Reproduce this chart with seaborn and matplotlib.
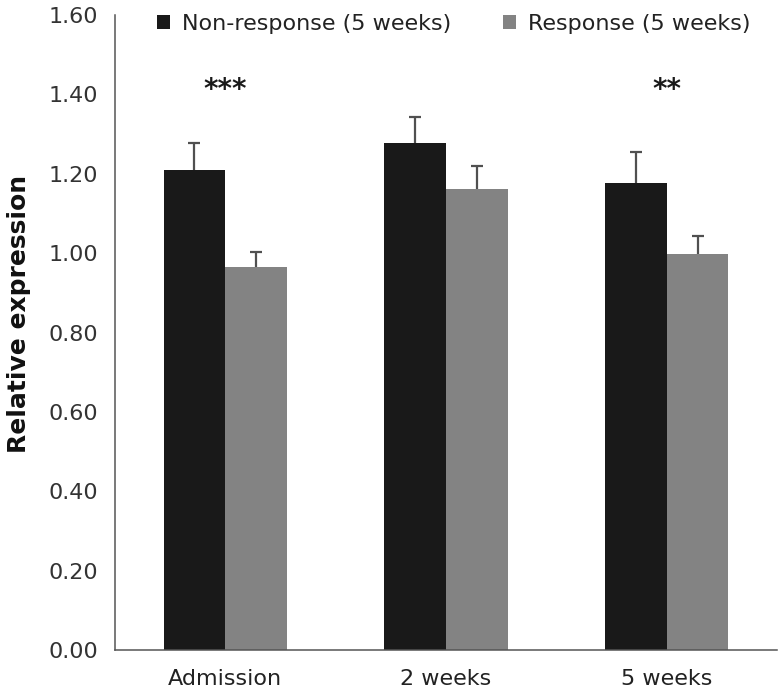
import numpy as np
import pandas as pd
import matplotlib
matplotlib.use("Agg")
import matplotlib.pyplot as plt
import seaborn as sns
from matplotlib.ticker import FixedLocator

# values
timepoints = ["Admission", "2 weeks", "5 weeks"]
groups = ["Non-response (5 weeks)", "Response (5 weeks)"]
non_response = [1.21, 1.277, 1.177]
non_response_err = [0.068, 0.066, 0.077]
response = [0.966, 1.162, 0.997]
response_err = [0.038, 0.057, 0.045]
stars = ["***", "", "**"]

colors = ["#191919", "#838383"]

df = pd.DataFrame({
    "timepoint": timepoints * 2,
    "group": [groups[0]] * 3 + [groups[1]] * 3,
    "value": non_response + response,
    "err": non_response_err + response_err,
})

sns.set_style("white")
plt.rcParams["font.family"] = ["DejaVu Sans"]

fig = plt.figure(figsize=(7.79, 6.91), dpi=100)
ax = fig.add_axes([0.1476, 0.0593, 0.8498, 0.919])

sns.barplot(data=df, x="timepoint", y="value", hue="group", order=timepoints,
            hue_order=groups, palette=colors, width=0.56, gap=0, errorbar=None,
            saturation=1, linewidth=0, ax=ax)

# one-sided (upper) error bars at each bar's centre
for cont, g in zip(ax.containers, groups):
    sub = df[df["group"] == g].set_index("timepoint").loc[timepoints]
    xs = [p.get_x() + p.get_width() / 2 for p in cont.patches]
    eb = ax.errorbar(xs, sub["value"], yerr=[np.zeros(len(xs)), sub["err"]],
                     fmt="none", ecolor="#505050", elinewidth=1.6, capsize=4.3,
                     capthick=1.6, zorder=1)
    eb[1][0].set_visible(False)
for p in ax.patches:
    p.set_zorder(2)

for i, s in enumerate(stars):
    if s:
        ax.text(i, 1.39, s, ha="center", va="baseline", fontsize=20,
                fontweight="bold", color="#1a1a1a")

ax.set_ylim(0, 1.60)
ax.set_xlim(-0.5, len(timepoints) - 0.5)
ax.set_yticks(np.arange(0, 1.61, 0.2))
ax.set_yticklabels([f"{v:.2f}" for v in np.arange(0, 1.61, 0.2)])
ax.xaxis.set_minor_locator(FixedLocator(np.arange(-0.5, len(timepoints), 1.0)))
ax.tick_params(axis="x", which="major", length=0, pad=14, labelsize=16,
               labelcolor="#222222")
ax.tick_params(axis="x", which="minor", length=7, width=1.1, color="#555555",
               direction="out")
ax.tick_params(axis="y", length=6, width=1.1, color="#555555", direction="out",
               labelsize=16, labelcolor="#333333", pad=6)
ax.set_xlabel("")
ax.set_ylabel("Relative expression", fontsize=18, fontweight="bold",
              color="#111111")
ax.yaxis.set_label_coords(-0.127, 0.53)

for side in ["top", "right"]:
    ax.spines[side].set_visible(False)
for side in ["left", "bottom"]:
    ax.spines[side].set_color("#555555")
    ax.spines[side].set_linewidth(1.1)

leg = ax.legend(loc="center", bbox_to_anchor=(0.512, 0.986), ncol=2,
                frameon=False, fontsize=16, handlelength=0.55,
                handleheight=0.55, handletextpad=0.55, columnspacing=2.35,
                borderpad=0)
for t in leg.get_texts():
    t.set_color("#222222")

fig.savefig("out.png", dpi=100)
